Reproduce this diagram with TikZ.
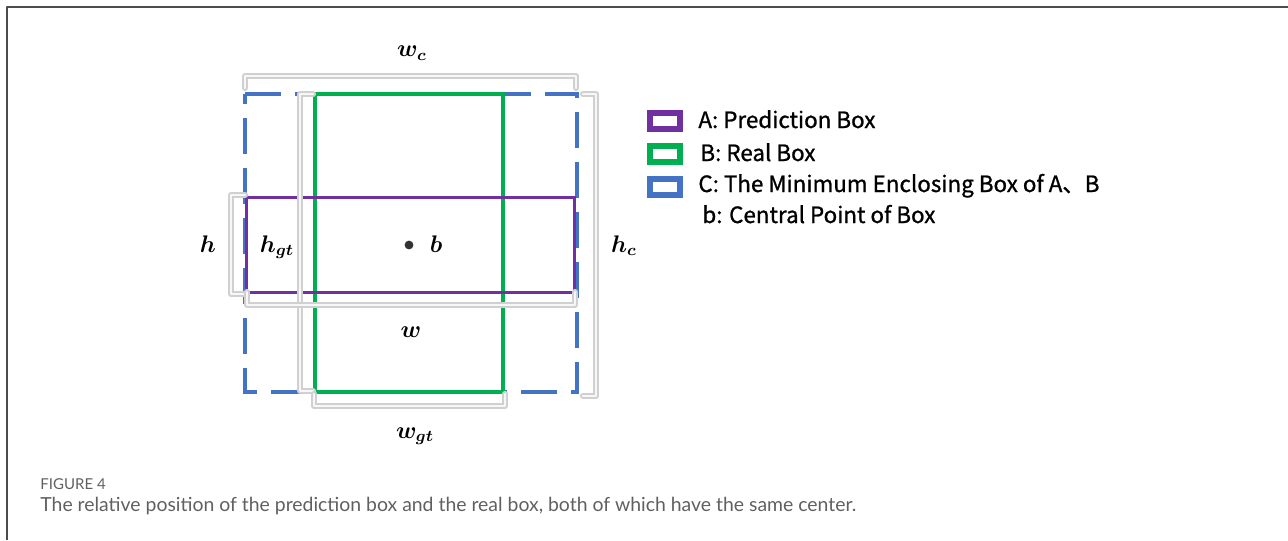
\documentclass[tikz,border=0pt]{standalone}
\usepackage{fontspec}
\setmainfont{Lato}
\newfontfamily\cjk[FakeBold=1]{Noto Sans CJK SC}
\definecolor{predA}{HTML}{7030A0}
\definecolor{realB}{HTML}{00B050}
\definecolor{encC}{HTML}{4472C4}
\definecolor{bracegray}{HTML}{D0D0D0}
\definecolor{captgray}{HTML}{606060}
\begin{document}
\begin{tikzpicture}[x=0.5pt,y=-0.5pt,line cap=round,line join=round,
  brk/.style={draw=bracegray,line width=0.9pt,double=gray!6,double distance=1.3pt},
  mlab/.style={font=\fontsize{12}{14}\selectfont\boldmath,inner sep=0pt,anchor=base},
  key/.style={draw,fill=white,line width=3pt,line join=miter,minimum width=15pt,minimum height=8pt,inner sep=0pt},
  keytxt/.style={font=\cjk\fontsize{11.2}{13}\selectfont,anchor=base west,inner sep=0pt}]
\useasboundingbox (0,0) rectangle (1288,540);
% frame
\draw [line width=1pt,gray!60!black,line cap=butt] (7,540) -- (7,7) -- (1288,7);
% the three boxes
\coordinate (C1) at (245,94);
\coordinate (C2) at (577,392);
\coordinate (B1) at (315,94);
\coordinate (B2) at (503,392);
\coordinate (A1) at (246,197);
\coordinate (A2) at (574,292);
\draw [encC,line width=2pt,line cap=butt,line join=miter,dash pattern=on 18pt off 7pt]
  (C1) -- (C1 -| C2) -- (C2) -- (C2 -| C1) -- cycle;
\draw [realB,line width=1.7pt,line join=miter] (B1) rectangle (B2);
\draw [predA,line width=1.5pt,line join=miter] (A1) rectangle (A2);
% brackets
\draw [brk] (245,88) -- (245,76) -- (576,76) -- (576,88);
\draw [brk] (583,94) -- (596,94) -- (596,396) -- (583,396);
\draw [brk] (245,195) -- (231,195) -- (231,294) -- (245,294);
\draw [brk] (313,94) -- (300,94) -- (300,391) -- (313,391);
\draw [brk] (247,292) -- (247,305) -- (575,305) -- (575,292);
\draw [brk] (314,394) -- (314,406) -- (505,406) -- (505,394);
% centre point
\fill [black!80] (409,245) circle (2.2pt);
% labels
\node [mlab] (wc) at (412,57) {$w_c$};
\node [mlab] (hc) at (624,252) {$h_c$};
\node [mlab] (h) at (208,252) {$h$};
\node [mlab] (hgt) at (277,252) {$h_{gt}$};
\node [mlab] (w) at (411,337) {$w$};
\node [mlab] (wgt) at (415,438) {$w_{gt}$};
\node [mlab] (b) at (436,252) {$b$};
% legend
\node [key,draw=predA] (keyA) at (665,121) {};
\node [key,draw=realB] (keyB) at (665,154) {};
\node [key,draw=encC] (keyC) at (665,187) {};
\node [keytxt] (txtA) at (698,128) {A: Prediction Box};
\node [keytxt] (txtB) at (700,161) {B: Real Box};
\node [keytxt] (txtC) at (698,192) {C: The Minimum Enclosing Box of A、B};
\node [keytxt] (txtb) at (702,223) {b: Central Point of Box};
% caption
\node [anchor=base west,inner sep=0pt,font=\fontsize{7.5}{9}\selectfont,text=captgray] (fig) at (40,489) {FIGURE 4};
\node [anchor=base west,inner sep=0pt,font=\fontsize{9.7}{12}\selectfont,text=captgray] (cap) at (40,511)
  {The relative position of the prediction box and the real box, both of which have the same center.};
\end{tikzpicture}
\end{document}
